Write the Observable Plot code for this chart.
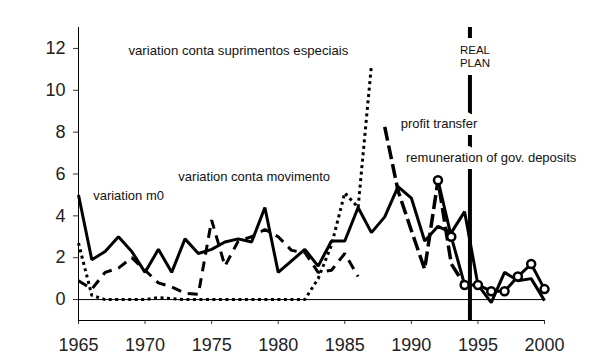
<!DOCTYPE html>
<html>
<head>
<meta charset="utf-8">
<script src="https://cdn.jsdelivr.net/npm/d3@7"></script>
<script src="https://cdn.jsdelivr.net/npm/@observablehq/plot@0.6"></script>
<style>
  html, body { margin: 0; padding: 0; background: #fff; }
  #chart { width: 600px; height: 360px; }
</style>
</head>
<body>
<div id="chart"></div>
<script>
// ---- data ----
const m0Years = [1965,1966,1967,1968,1969,1970,1971,1972,1973,1974,1975,1976,1977,1978,1979,1980,1981,1982,1983,1984,1985,1986,1987,1988,1989,1990,1991,1992,1993,1994,1995,1996,1997,1998,1999,2000];
const m0 = [5.0,1.9,2.3,3.0,2.3,1.3,2.4,1.3,2.9,2.2,2.4,2.75,2.9,2.75,4.4,1.3,1.85,2.4,1.6,2.8,2.8,4.4,3.2,3.95,5.4,4.85,2.8,3.5,3.2,4.2,0.7,-0.15,1.3,0.9,1.0,-0.05];

const movYears = [1965,1966,1967,1968,1969,1970,1971,1972,1973,1974,1975,1976,1977,1978,1979,1980,1981,1982,1983,1984,1985,1986];
const movimento = [0.9,0.5,1.3,1.5,2.0,1.4,0.8,0.6,0.3,0.25,3.8,1.6,2.8,3.0,3.35,3.0,2.35,2.25,1.3,1.4,2.2,1.1];

const supYears = [1965,1966,1967,1968,1969,1970,1971,1972,1973,1974,1975,1976,1977,1978,1979,1980,1981,1982,1983,1984,1985,1986,1987];
const suprimentos = [2.7,0.2,0,0,0,0,0.1,0.05,0,0,0,0,0,0,0,0,0,0,1.0,2.6,5.1,4.4,11.2];

const profitYears = [1988,1989,1990,1991,1992,1993,1994];
const profit = [8.25,5.2,3.3,1.45,5.7,1.7,0.7];

const remYears = [1992,1993,1994,1995,1996,1997,1998,1999,2000];
const remuneration = [5.7,3.0,0.7,0.7,0.4,0.4,1.1,1.7,0.5];

const realPlanYear = 1994.4;

const xTicks = [1965,1970,1975,1980,1985,1990,1995,2000];
const yTicks = [0,2,4,6,8,10,12];
const xDomain = [1965, 2000];
const yDomain = [-1, 13];

const seriesLabels = ["variation m0", "variation conta movimento", "variation conta suprimentos especiais", "profit transfer", "remuneration of gov. deposits"];
const realPlanLabels = ["REAL", "PLAN"];

// ---- build tables ----
const toRows = (years, vals) => years.map((year, i) => ({year, v: vals[i]}));
const m0Data = toRows(m0Years, m0);
const movData = toRows(movYears, movimento);
const supData = toRows(supYears, suprimentos);
const profitData = toRows(profitYears, profit);
const remData = toRows(remYears, remuneration);

const font = "'Liberation Sans', Arial, Helvetica, sans-serif";
const lineOpts = {x: "year", y: "v", stroke: "black", strokeWidth: 3, strokeLinejoin: "miter", strokeLinecap: "butt"};
const labelOpts = {text: d => d, textAnchor: "start", fontSize: 13, fill: "#111", fontFamily: font};
const haloOpts = {stroke: "white", strokeWidth: 14, paintOrder: "stroke", strokeLinejoin: "round"};
const realOpts = {x: realPlanYear, dx: 5, textAnchor: "middle", fontSize: 11.5};

const chart = Plot.plot({
  width: 600,
  height: 360,
  marginLeft: 78,
  marginRight: 56,
  marginTop: 27,
  marginBottom: 40,
  style: {fontFamily: font, fontSize: "18px", background: "white", color: "#222"},
  x: {domain: xDomain},
  y: {domain: yDomain},
  marks: [
    Plot.axisX({ticks: xTicks, tickFormat: d => String(d), tickSize: 4, tickPadding: 14, fontSize: 18, label: null, stroke: "#333"}),
    Plot.axisY({ticks: yTicks, tickFormat: d => String(d), tickSize: 5, tickPadding: 8, fontSize: 18, label: null, stroke: "#333"}),
    Plot.ruleY([yDomain[0]], {stroke: "black", strokeWidth: 1}),
    Plot.ruleX([xDomain[0]], {stroke: "black", strokeWidth: 1}),
    Plot.ruleY([0], {stroke: "black", strokeWidth: 1}),
    Plot.ruleX([realPlanYear], {stroke: "black", strokeWidth: 4}),
    Plot.line(supData, {...lineOpts, strokeDasharray: "3,3.5"}),
    Plot.line(movData, {...lineOpts, strokeDasharray: "10,7"}),
    Plot.line(profitData, {...lineOpts, strokeWidth: 3.5, strokeDasharray: "14,5"}),
    Plot.line(m0Data, {...lineOpts}),
    Plot.line(remData, {...lineOpts}),
    Plot.dot(remData, {x: "year", y: "v", r: 4, stroke: "black", strokeWidth: 2.5, fill: "white"}),
    // labels
    Plot.text([seriesLabels[0]], {...labelOpts, x: 1966.1, y: 4.97}),
    Plot.text([seriesLabels[1]], {...labelOpts, x: 1972.5, y: 5.85}),
    Plot.text([seriesLabels[2]], {...labelOpts, x: 1968.75, y: 11.9, fontSize: 13.2}),
    Plot.text([seriesLabels[3]], {...labelOpts, ...haloOpts, x: 1989.2, y: 8.4}),
    Plot.text([seriesLabels[4]], {...labelOpts, ...haloOpts, x: 1989.6, y: 6.78}),
    // white backing for the REAL PLAN label, then the label itself
    Plot.text([realPlanLabels[0]], {...labelOpts, ...haloOpts, ...realOpts, fill: "white", strokeWidth: 16, y: 11.9}),
    Plot.text([realPlanLabels[1]], {...labelOpts, ...haloOpts, ...realOpts, fill: "white", strokeWidth: 16, y: 11.28}),
    Plot.text([realPlanLabels[0]], {...labelOpts, ...realOpts, y: 11.9}),
    Plot.text([realPlanLabels[1]], {...labelOpts, ...realOpts, y: 11.28})
  ]
});
document.getElementById("chart").appendChild(chart);
</script>
</body>
</html>
